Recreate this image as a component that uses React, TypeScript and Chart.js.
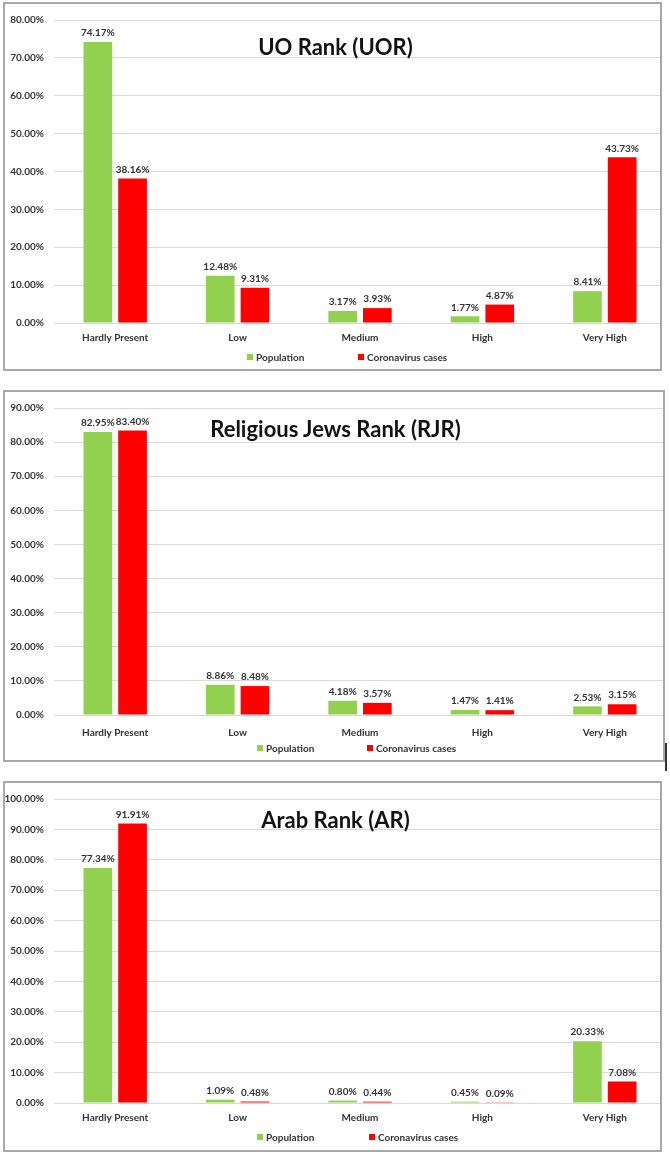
import React, { useEffect, useRef } from 'react';
import { Chart, registerables } from 'chart.js';

Chart.register(...registerables);

// ---------- data ----------
const categories = ['Hardly Present', 'Low', 'Medium', 'High', 'Very High'];
const seriesNames = ['Population', 'Coronavirus cases'];

const uorTitle = 'UO Rank (UOR)';
const uorPopulation = [74.17, 12.48, 3.17, 1.77, 8.41];
const uorCases = [38.16, 9.31, 3.93, 4.87, 43.73];
const uorMax = 80;

const rjrTitle = 'Religious Jews Rank (RJR)';
const rjrPopulation = [82.95, 8.86, 4.18, 1.47, 2.53];
const rjrCases = [83.4, 8.48, 3.57, 1.41, 3.15];
const rjrMax = 90;

const arTitle = 'Arab Rank (AR)';
const arPopulation = [77.34, 1.09, 0.8, 0.45, 20.33];
const arCases = [91.91, 0.48, 0.44, 0.09, 7.08];
const arMax = 100;

const tickStep = 10;

// ---------- style ----------
const GREEN = '#92D050';
const RED = '#FF0000';
const TEXT = '#333333';
const FONT = 'Lato, "Liberation Sans", sans-serif';
const PLOT_LEFT = 54;
const PLOT_RIGHT = 666;
const CANVAS_LEFT = 5;
const X_AXIS_H = 32;
const BORDER = 2;

type Spec = {
  title: string;
  pop: number[];
  cases: number[];
  yMax: number;
  box: [number, number, number, number];
  plotTop: number;
  plotBottom: number;
  titleY: number;
  legendY: number;
  legendX: [number, number];
  xPad: number;
};

const specs: Spec[] = [
  {
    title: uorTitle, pop: uorPopulation, cases: uorCases, yMax: uorMax,
    box: [3, 2, 662, 371], plotTop: 20, plotBottom: 323, titleY: 47,
    legendY: 357, legendX: [247, 358], xPad: 1,
  },
  {
    title: rjrTitle, pop: rjrPopulation, cases: rjrCases, yMax: rjrMax,
    box: [3, 390, 665, 762], plotTop: 405, plotBottom: 715, titleY: 429,
    legendY: 748, legendX: [257, 367], xPad: 4,
  },
  {
    title: arTitle, pop: arPopulation, cases: arCases, yMax: arMax,
    box: [3, 781, 662, 1152], plotTop: 797, plotBottom: 1103, titleY: 820,
    legendY: 1137, legendX: [257, 369], xPad: 1,
  },
];

const valueLabels = {
  id: 'valueLabels',
  afterDatasetsDraw(chart: any) {
    const { ctx } = chart;
    ctx.save();
    ctx.font = `bold 10px ${FONT}`;
    ctx.fillStyle = TEXT;
    ctx.textAlign = 'center';
    ctx.textBaseline = 'bottom';
    chart.data.datasets.forEach((ds: any, di: number) => {
      chart.getDatasetMeta(di).data.forEach((el: any, i: number) => {
        ctx.fillText(Number(ds.data[i]).toFixed(2) + '%', el.x, el.y - 4);
      });
    });
    ctx.restore();
  },
};

function Panel({ spec }: { spec: Spec }) {
  const ref = useRef<HTMLCanvasElement>(null);
  const [L, T, R, B] = spec.box;
  const cTop = T + BORDER;
  const cW = PLOT_RIGHT + 1 - CANVAS_LEFT;
  const cH = spec.plotBottom + X_AXIS_H - cTop;

  useEffect(() => {
    if (!ref.current) return;
    const chart = new Chart(ref.current, {
      type: 'bar',
      data: {
        labels: categories,
        datasets: [
          {
            label: seriesNames[0], data: spec.pop, backgroundColor: GREEN,
            categoryPercentage: 0.567, barPercentage: 0.826,
          },
          {
            label: seriesNames[1], data: spec.cases, backgroundColor: RED,
            categoryPercentage: 0.567, barPercentage: 0.826,
          },
        ],
      },
      options: {
        responsive: false,
        animation: false,
        layout: {
          padding: { top: spec.plotTop - cTop, right: cW - (PLOT_RIGHT - CANVAS_LEFT), left: 0, bottom: 0 },
        },
        plugins: {
          legend: { display: false },
          tooltip: { enabled: false },
          title: { display: false },
        },
        scales: {
          x: {
            grid: { display: false },
            border: { display: false },
            ticks: {
              color: TEXT, font: { family: FONT, size: 10, weight: 'bold' },
              padding: spec.xPad, maxRotation: 0, autoSkip: false,
            },
            afterFit: (s: any) => { s.height = X_AXIS_H; },
          },
          y: {
            min: 0, max: spec.yMax,
            grid: { color: '#d9d9d9', drawTicks: false, lineWidth: 1 },
            border: { display: false },
            ticks: {
              stepSize: tickStep,
              color: TEXT, font: { family: FONT, size: 10, weight: 'bold' },
              padding: 10,
              callback: (v: any) => Number(v).toFixed(2) + '%',
            },
            afterFit: (s: any) => { s.width = PLOT_LEFT - CANVAS_LEFT; },
          },
        },
      },
      plugins: [valueLabels],
    } as any);
    return () => chart.destroy();
  }, []);

  const innerLeft = L + BORDER;
  const innerTop = T + BORDER;

  return (
    <div
      style={{
        position: 'absolute', left: L, top: T, width: R - L, height: B - T,
        border: `${BORDER}px solid #a8a8a8`, boxSizing: 'border-box', overflow: 'hidden',
        background: '#fff',
      }}
    >
      <canvas
        ref={ref}
        width={cW}
        height={cH}
        style={{ position: 'absolute', left: CANVAS_LEFT - innerLeft, top: cTop - innerTop, width: cW, height: cH }}
      />
      <div
        style={{
          position: 'absolute', left: 0, width: 666 - innerLeft, top: spec.titleY - 14 - innerTop,
          textAlign: 'center', font: `bold 22px ${FONT}`, lineHeight: '28px', color: '#111',
          pointerEvents: 'none', whiteSpace: 'nowrap',
        }}
      >
        {spec.title}
      </div>
      {seriesNames.map((name, i) => (
        <div
          key={name}
          style={{
            position: 'absolute', left: spec.legendX[i] - innerLeft, top: spec.legendY - 7 - innerTop,
            height: 14, display: 'flex', alignItems: 'center', whiteSpace: 'nowrap',
            font: `bold 10px ${FONT}`, color: TEXT,
          }}
        >
          <span style={{ display: 'inline-block', width: 6, height: 6, background: i === 0 ? GREEN : RED, marginRight: 3 }} />
          <span>{name}</span>
        </div>
      ))}
    </div>
  );
}

export default function App() {
  return (
    <div style={{ position: 'absolute', left: 0, top: 0, width: 670, height: 1156, background: '#fff' }}>
      {specs.map((s) => (
        <Panel key={s.title} spec={s} />
      ))}
      <div style={{ position: 'absolute', left: 665, top: 743, width: 2, height: 28, background: '#333' }} />
    </div>
  );
}
